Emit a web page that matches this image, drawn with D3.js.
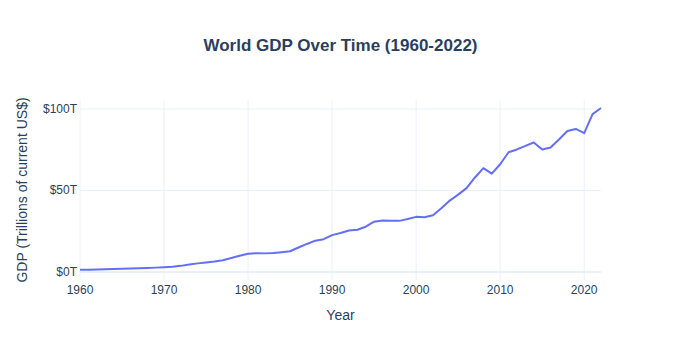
<!DOCTYPE html>
<html>
<head>
<meta charset="utf-8">
<script src="https://cdn.jsdelivr.net/npm/d3@7"></script>
<style>
  body { margin: 0; background: #fff; }
  text { font-family: "Liberation Sans", Arial, sans-serif; fill: #2a3f5f; }
</style>
</head>
<body>
<script>
// Años y PIB mundial (billones de US$ corrientes)
const years = d3.range(1960, 2023);
const gdp = [
  1.38, 1.44, 1.54, 1.65, 1.80, 1.96, 2.13, 2.26, 2.44, 2.69,
  2.96, 3.27, 3.77, 4.59, 5.30, 5.90, 6.42, 7.26, 8.54, 9.93,
  11.23, 11.58, 11.43, 11.65, 12.13, 12.72, 15.05, 17.21, 19.21, 20.11,
  22.63, 23.92, 25.45, 25.89, 27.78, 30.87, 31.57, 31.44, 31.37, 32.53,
  33.83, 33.58, 34.86, 39.13, 43.82, 47.46, 51.47, 57.98, 63.68, 60.33,
  66.11, 73.48, 75.18, 77.32, 79.46, 75.13, 76.32, 81.23, 86.45, 87.73,
  85.13, 96.86, 100.56
];
const xTicks = [1960, 1970, 1980, 1990, 2000, 2010, 2020];
const yTicks = [0, 50, 100];

const data = years.map((y, i) => ({ year: y, value: gdp[i] }));

const charWidth = 681;
const charHeight = 360;
const margin = { top: 100, right: 80, bottom: 80, left: 80 };
const width = charWidth - margin.left - margin.right;
const height = charHeight - margin.top - margin.bottom;

const svg = d3.select("body").append("svg")
  .attr("width", charWidth)
  .attr("height", charHeight);

const g = svg.append("g")
  .attr("transform", `translate(${margin.left},${margin.top})`);

const x = d3.scaleLinear().domain([1960, 2022]).range([0, width]);
// rango del eje y con un poco de aire arriba y abajo
const y = d3.scaleLinear().domain([-4.9, 105.5]).range([height, 0]);

// Rejilla
g.selectAll(".xgrid").data(xTicks).enter().append("line")
  .attr("x1", (d) => x(d)).attr("x2", (d) => x(d))
  .attr("y1", 0).attr("y2", height)
  .attr("stroke", "#EBF0F8").attr("stroke-width", 1);

g.selectAll(".ygrid").data(yTicks).enter().append("line")
  .attr("x1", 0).attr("x2", width)
  .attr("y1", (d) => y(d)).attr("y2", (d) => y(d))
  .attr("stroke", "#EBF0F8").attr("stroke-width", (d) => (d === 0 ? 2 : 1));

// Etiquetas de ejes
g.selectAll(".xlab").data(xTicks).enter().append("text")
  .attr("x", (d) => x(d)).attr("y", height + 14)
  .attr("text-anchor", "middle").style("font-size", "12px")
  .text((d) => d);

g.selectAll(".ylab").data(yTicks).enter().append("text")
  .attr("x", -3).attr("y", (d) => y(d) + 4)
  .attr("text-anchor", "end").style("font-size", "12px")
  .text((d) => `$${d}T`);

// Línea
const line = d3.line().x((d) => x(d.year)).y((d) => y(d.value));
g.append("path").datum(data)
  .attr("d", line)
  .attr("fill", "none")
  .attr("stroke", "#636efa")
  .attr("stroke-width", 2)
  .attr("stroke-linejoin", "round");

// Títulos
svg.append("text")
  .attr("x", charWidth / 2).attr("y", 51)
  .attr("text-anchor", "middle")
  .style("font-size", "17px").style("font-weight", "bold")
  .text("World GDP Over Time (1960-2022)");

svg.append("text")
  .attr("x", margin.left + width / 2).attr("y", 320)
  .attr("text-anchor", "middle").style("font-size", "14px")
  .text("Year");

svg.append("text")
  .attr("transform", `translate(27,${margin.top + height / 2}) rotate(-90)`)
  .attr("text-anchor", "middle").style("font-size", "14px")
  .text("GDP (Trillions of current US$)");
</script>
</body>
</html>
